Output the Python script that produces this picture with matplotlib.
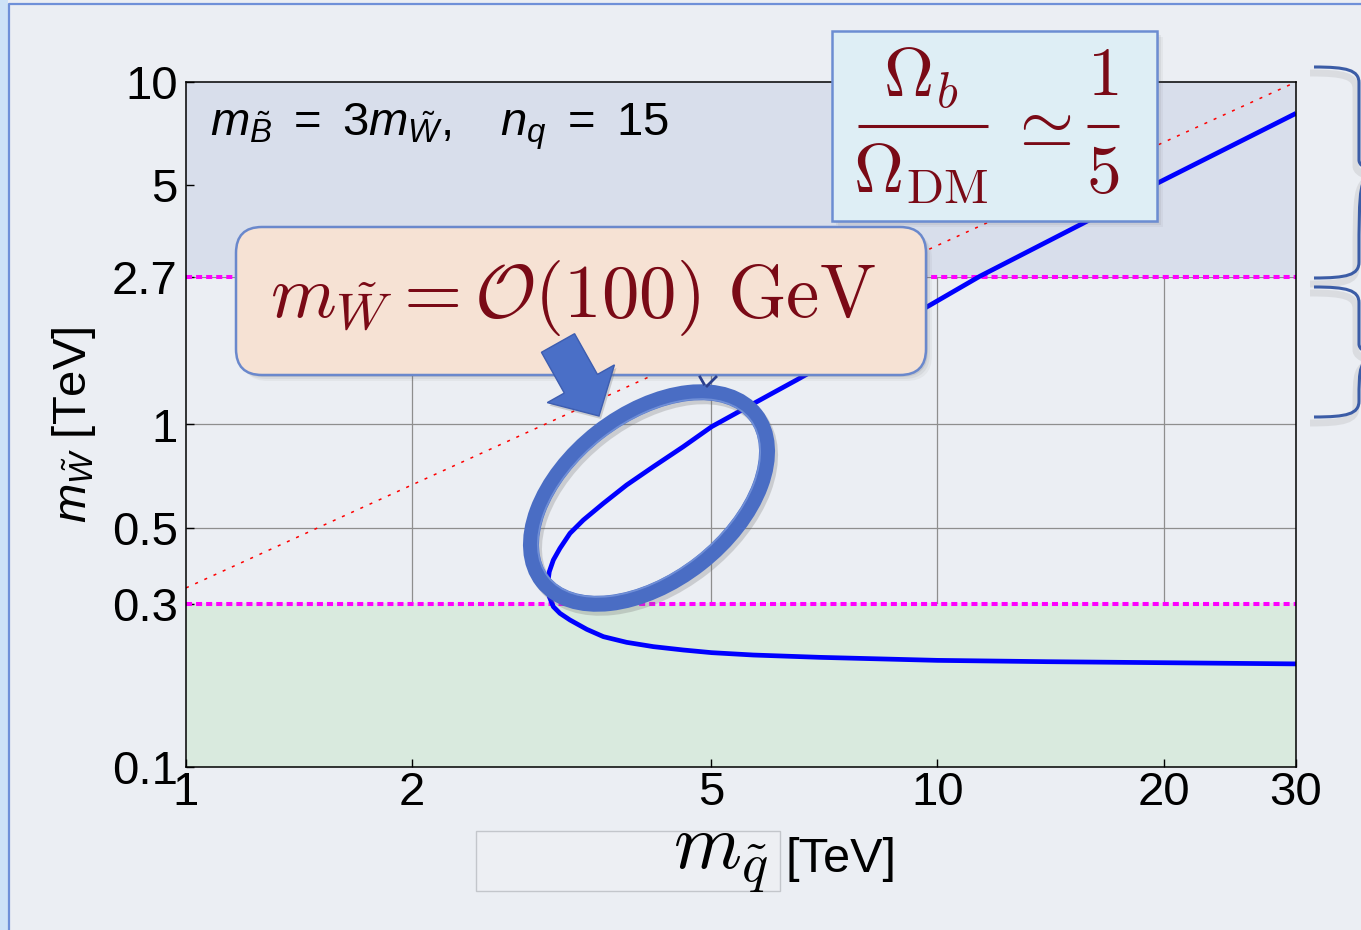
import matplotlib.pyplot as plt
from matplotlib.patches import Rectangle, FancyBboxPatch, Ellipse, FancyArrow, PathPatch
from matplotlib.path import Path

plt.rcParams['font.family'] = ['Liberation Sans', 'DejaVu Sans']
plt.rcParams['mathtext.fontset'] = 'custom'
plt.rcParams['mathtext.rm'] = 'Liberation Sans'
plt.rcParams['mathtext.it'] = 'Liberation Sans:italic'
plt.rcParams['mathtext.bf'] = 'Liberation Sans:bold'

# contour Omega_b / Omega_DM = 1/5 : squark mass vs wino mass [TeV]
# lower branch from the right, round the turning point, then the upper branch
m_squark = [30, 20, 14, 10, 6.978, 5.687, 5.006, 4.589, 4.187, 3.858, 3.593, 3.415,
            3.243, 3.145, 3.082, 3.044, 3.029, 3.044, 3.082, 3.145, 3.243, 3.379,
            3.593, 3.858, 4.187, 4.589, 5.006, 5.350, 5.687, 6.046, 6.495, 8.0,
            9.77, 11.39, 15.63, 19.6, 30]
m_wino = [0.200, 0.2016, 0.2030, 0.2048, 0.2090, 0.2123, 0.2157, 0.2196, 0.2246,
          0.2312, 0.2402, 0.2523, 0.2687, 0.2810, 0.2938, 0.3144, 0.3438, 0.3718,
          0.4021, 0.4350, 0.4811, 0.5262, 0.5886, 0.6658, 0.7531, 0.8614, 0.9855,
          1.068, 1.150, 1.238, 1.349, 1.745, 2.23, 2.71, 3.87, 5.06, 8.10]

# m_W = m_q / 3 reference line
diag_x = [1, 30]
diag_y = [1 / 3, 10]

# bounds of the excluded bands
band_low = 0.3
band_high = 2.7

x_ticks = [1, 2, 5, 10, 20, 30]
x_labels = ['1', '2', '5', '10', '20', '30']
y_ticks = [0.1, 0.3, 0.5, 1, 2.7, 5, 10]
y_labels = ['0.1', '0.3', '0.5', '1', '2.7', '5', '10']

bg = '#EBEEF3'
dark_red = '#7A0A16'

fig = plt.figure(figsize=(13.61, 9.30), dpi=100, facecolor=bg)
ax = fig.add_axes([186 / 1361, 1 - 767 / 930, 1110 / 1361, 685 / 930])
ax.set_facecolor(bg)
ax.set_xscale('log')
ax.set_yscale('log')
ax.set_xlim(1, 30)
ax.set_ylim(0.1, 10)

for v in x_ticks[1:-1]:
    ax.axvline(v, color='#8E8E8E', lw=0.9, zorder=0.5)
for v in y_ticks[1:-1]:
    ax.axhline(v, color='#8E8E8E', lw=0.9, zorder=0.5)

ax.axhspan(band_high, 10, color='#D8DEEB', lw=0, zorder=1)
ax.axhspan(0.1, band_low, color='#D9EADE', lw=0, zorder=1)

ax.plot(diag_x, diag_y, color='red', lw=1.1, dashes=(2, 4.6), zorder=2)
for v in (band_low, band_high):
    ax.axhline(v, color='#FF00FF', lw=2.9, dashes=(1.5, 1.0), zorder=3)
ax.plot(m_squark, m_wino, color='#0000FF', lw=3.4, zorder=4,
        solid_capstyle='butt', solid_joinstyle='round')

ax.minorticks_off()
ax.set_xticks(x_ticks)
ax.set_xticklabels(x_labels)
ax.set_yticks(y_ticks)
ax.set_yticklabels(y_labels)
ax.tick_params(direction='in', length=6, width=1, labelsize=34, colors='black')
ax.tick_params(axis='x', pad=3)
ax.tick_params(axis='y', pad=6)
for s in ax.spines.values():
    s.set_linewidth(1.1)
    s.set_zorder(6)
ax.set_ylabel(r'$m_{\tilde{W}}$ [TeV]', fontsize=34, labelpad=10)

ax.text(0.0216, 0.9226, r'$m_{\tilde{B}}\ =\ 3m_{\tilde{W}},\ \ \ n_q\ =\ 15$',
        transform=ax.transAxes, fontsize=34, va='baseline', ha='left', zorder=7)

# overlay in pixel units for the slide decorations
ov = fig.add_axes([0, 0, 1, 1], zorder=5)
ov.set_xlim(0, 1361)
ov.set_ylim(930, 0)
ov.axis('off')

# slide frame
ov.add_patch(Rectangle((0, 0), 8, 930, color='#CDE2F7', lw=0))
ov.plot([9, 9, 1361], [930, 4, 4], color='#6F90D8', lw=1.6, solid_joinstyle='round')

# x label: boxed squark mass plus unit
ov.add_patch(Rectangle((476, 831), 304, 60, facecolor='#EDEFF3', edgecolor='#C3C6CB', lw=1))
ov.text(768, 869, r'$m_{\tilde{q}}$', fontsize=56, math_fontfamily='cm',
        ha='right', va='baseline')
ov.text(786, 872, '[TeV]', fontsize=35, ha='left', va='baseline')

# Omega box with drop shadow
for k, a in ((6, 0.06), (4, 0.08), (2, 0.12)):
    ov.add_patch(Rectangle((832 + k, 31 + k), 325, 190, facecolor='#555555', alpha=a, lw=0))
ov.add_patch(Rectangle((832, 31), 325, 190, facecolor='#DEEEF5', edgecolor='#6C8DD2', lw=1.8))
cm_kw = dict(fontsize=50, math_fontfamily='cm', color=dark_red, va='baseline')
ov.text(921, 97, r'$\Omega_b$', ha='center', **cm_kw)
ov.plot([858, 988], [126, 126], color=dark_red, lw=2.2, solid_capstyle='butt')
ov.text(921, 192, r'$\Omega_{\rm DM}$', ha='center', **cm_kw)
ov.text(1039, 146, r'$\simeq$', ha='center', **cm_kw)
ov.text(1103, 95, r'$1$', ha='center', **cm_kw)
ov.plot([1087, 1119], [126, 126], color=dark_red, lw=2.2, solid_capstyle='butt')
ov.text(1103, 192, r'$5$', ha='center', **cm_kw)

# rounded callout box
for k, a in ((6, 0.06), (4, 0.08), (2, 0.12)):
    ov.add_patch(FancyBboxPatch((236 + k, 227 + k), 690, 148,
                                boxstyle='round,pad=0,rounding_size=26',
                                facecolor='#555555', alpha=a, lw=0))
ov.add_patch(FancyBboxPatch((236, 227), 690, 148, boxstyle='round,pad=0,rounding_size=26',
                            facecolor='#F6E2D4', edgecolor='#6A88CC', lw=1.8))
ov.text(270, 317, r'$m_{\tilde{W}} = \mathcal{O}(100)\ \mathrm{GeV}$',
        fontsize=54, math_fontfamily='cm', color=dark_red, ha='left', va='baseline')

# small stray marks under the callout
ov.plot([700, 704], [377, 384], color='#2B3F8E', lw=2)
ov.plot([716, 707], [377, 386], color='#2B3F8E', lw=2)

# highlight ring
ov.add_patch(Ellipse((652, 502), 270, 166, angle=-38, fill=False,
                     edgecolor='#6A6A6A', lw=11.5, alpha=0.25))
ov.add_patch(Ellipse((649, 498), 270, 166, angle=-38, fill=False,
                     edgecolor='#4A6DC4', lw=11.5))
ov.add_patch(Ellipse((649, 498), 256, 152, angle=-38, fill=False,
                     edgecolor='#7A98DC', lw=1.2, alpha=0.8))

# block arrow
ov.add_patch(FancyArrow(560, 346, 41, 73, width=38, head_width=77, head_length=37,
                        length_includes_head=True, color='#606060', alpha=0.25, lw=0))
ov.add_patch(FancyArrow(558, 343, 41, 73, width=38, head_width=77, head_length=37,
                        length_includes_head=True, facecolor='#4A6FC7',
                        edgecolor='#3D5DB0', lw=1))


def brace(y0, ym, y1, x0=1314, x1=1359, x2=1378):
    verts = [(x0, y0), (x1 - 12, y0), (x1, y0 + 3), (x1, y0 + 16),
             (x1, ym - 12),
             (x1, ym - 3), (x2, ym), (x2, ym),
             (x1, ym + 3), (x1, ym + 12),
             (x1, y1 - 16),
             (x1, y1 - 3), (x1 - 12, y1), (x0, y1)]
    codes = [Path.MOVETO, Path.CURVE4, Path.CURVE4, Path.CURVE4,
             Path.LINETO,
             Path.CURVE4, Path.CURVE4, Path.CURVE4,
             Path.CURVE4, Path.CURVE4,
             Path.LINETO,
             Path.CURVE4, Path.CURVE4, Path.CURVE4]
    return Path(verts, codes)


for y0, ym, y1 in ((67, 172, 278), (287, 356, 417)):
    p = brace(y0, ym, y1)
    shadow = brace(y0 + 6, ym + 6, y1 + 6, x0=1310, x1=1356, x2=1375)
    ov.add_patch(PathPatch(shadow, fill=False, edgecolor='#7A7A7A', lw=5, alpha=0.15))
    ov.add_patch(PathPatch(p, fill=False, edgecolor='#3B5CA6', lw=2.2))

fig.savefig('out.png', dpi=100, facecolor=fig.get_facecolor())
